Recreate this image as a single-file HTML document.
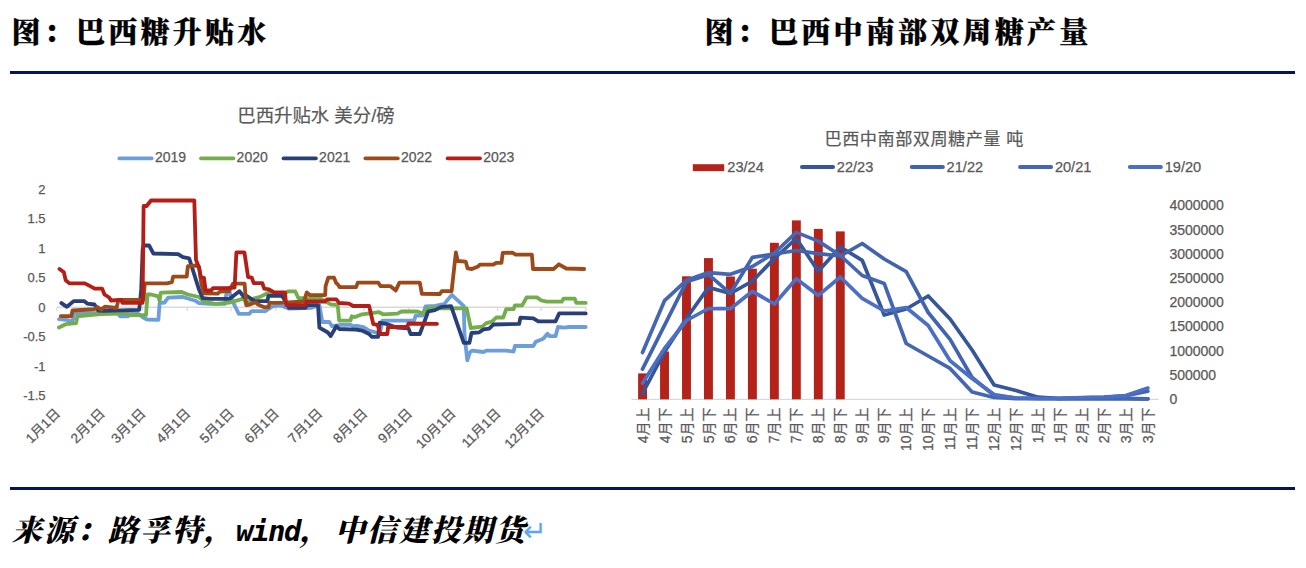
<!DOCTYPE html>
<html><head><meta charset="utf-8">
<style>
html,body{margin:0;padding:0;background:#fff;}
body{width:1306px;height:568px;position:relative;overflow:hidden;}
.t{position:absolute;font-family:"Liberation Serif","Noto Serif CJK SC",serif;font-weight:900;font-size:29px;letter-spacing:3.25px;line-height:32px;color:#000;-webkit-text-stroke:0.3px #000;white-space:nowrap;}
.rule{position:absolute;left:10px;width:1285px;height:3px;background:#041653;}
.src{position:absolute;left:12px;top:515px;font-family:"Liberation Serif","Noto Serif CJK SC",serif;font-weight:900;font-size:30px;letter-spacing:2px;line-height:32px;font-style:italic;white-space:nowrap;color:#000;}
.src .w{font-family:"DejaVu Sans Mono","Liberation Mono",monospace;font-weight:bold;font-size:29px;letter-spacing:-1.46px;}
.arr{position:absolute;left:522.7px;top:514.5px;font-family:"DejaVu Sans",sans-serif;font-style:normal;font-weight:normal;color:#62a3f4;font-size:28.7px;line-height:32px;}
svg{position:absolute;left:0;top:0;}
.ax{font-family:"Liberation Sans","Noto Sans CJK SC",sans-serif;font-size:13px;fill:#595959;stroke:#595959;stroke-width:0.25px;}
.ax2{font-family:"Liberation Sans","Noto Sans CJK SC",sans-serif;font-size:14px;fill:#595959;stroke:#595959;stroke-width:0.25px;}
.ct{font-family:"Liberation Sans","Noto Sans CJK SC",sans-serif;fill:#595959;stroke:#595959;stroke-width:0.2px;}
</style></head><body>
<div class="t" style="left:11.6px;top:16.5px;">图：巴西糖升贴水</div>
<div class="t" style="left:704.6px;top:16.5px;">图：巴西中南部双周糖产量</div>
<div class="rule" style="top:71px;"></div>
<svg width="1306" height="568" viewBox="0 0 1306 568">
<line x1="57.0" y1="307.3" x2="586" y2="307.3" stroke="#d9d9d9" stroke-width="1.6"/>
<line x1="57.0" y1="307.3" x2="57.0" y2="311.1" stroke="#d9d9d9" stroke-width="1.3"/>
<line x1="101.9" y1="307.3" x2="101.9" y2="311.1" stroke="#d9d9d9" stroke-width="1.3"/>
<line x1="142.5" y1="307.3" x2="142.5" y2="311.1" stroke="#d9d9d9" stroke-width="1.3"/>
<line x1="187.4" y1="307.3" x2="187.4" y2="311.1" stroke="#d9d9d9" stroke-width="1.3"/>
<line x1="230.9" y1="307.3" x2="230.9" y2="311.1" stroke="#d9d9d9" stroke-width="1.3"/>
<line x1="275.8" y1="307.3" x2="275.8" y2="311.1" stroke="#d9d9d9" stroke-width="1.3"/>
<line x1="319.3" y1="307.3" x2="319.3" y2="311.1" stroke="#d9d9d9" stroke-width="1.3"/>
<line x1="364.2" y1="307.3" x2="364.2" y2="311.1" stroke="#d9d9d9" stroke-width="1.3"/>
<line x1="409.1" y1="307.3" x2="409.1" y2="311.1" stroke="#d9d9d9" stroke-width="1.3"/>
<line x1="452.6" y1="307.3" x2="452.6" y2="311.1" stroke="#d9d9d9" stroke-width="1.3"/>
<line x1="497.5" y1="307.3" x2="497.5" y2="311.1" stroke="#d9d9d9" stroke-width="1.3"/>
<line x1="541.0" y1="307.3" x2="541.0" y2="311.1" stroke="#d9d9d9" stroke-width="1.3"/>
<line x1="585.9" y1="307.3" x2="585.9" y2="311.1" stroke="#d9d9d9" stroke-width="1.3"/>
<text x="45.6" y="193.9" text-anchor="end" class="ax">2</text>
<text x="45.6" y="223.4" text-anchor="end" class="ax">1.5</text>
<text x="45.6" y="252.9" text-anchor="end" class="ax">1</text>
<text x="45.6" y="282.4" text-anchor="end" class="ax">0.5</text>
<text x="45.6" y="311.9" text-anchor="end" class="ax">0</text>
<text x="45.6" y="341.4" text-anchor="end" class="ax">-0.5</text>
<text x="45.6" y="370.9" text-anchor="end" class="ax">-1</text>
<text x="45.6" y="400.4" text-anchor="end" class="ax">-1.5</text>
<text transform="translate(61.0,414.2) rotate(-45)" text-anchor="end" class="ax" style="font-size:13.5px">1月1日</text>
<text transform="translate(105.9,414.2) rotate(-45)" text-anchor="end" class="ax" style="font-size:13.5px">2月1日</text>
<text transform="translate(146.5,414.2) rotate(-45)" text-anchor="end" class="ax" style="font-size:13.5px">3月1日</text>
<text transform="translate(191.4,414.2) rotate(-45)" text-anchor="end" class="ax" style="font-size:13.5px">4月1日</text>
<text transform="translate(234.9,414.2) rotate(-45)" text-anchor="end" class="ax" style="font-size:13.5px">5月1日</text>
<text transform="translate(279.8,414.2) rotate(-45)" text-anchor="end" class="ax" style="font-size:13.5px">6月1日</text>
<text transform="translate(323.3,414.2) rotate(-45)" text-anchor="end" class="ax" style="font-size:13.5px">7月1日</text>
<text transform="translate(368.2,414.2) rotate(-45)" text-anchor="end" class="ax" style="font-size:13.5px">8月1日</text>
<text transform="translate(413.1,414.2) rotate(-45)" text-anchor="end" class="ax" style="font-size:13.5px">9月1日</text>
<text transform="translate(456.6,414.2) rotate(-45)" text-anchor="end" class="ax" style="font-size:13.5px">10月1日</text>
<text transform="translate(501.5,414.2) rotate(-45)" text-anchor="end" class="ax" style="font-size:13.5px">11月1日</text>
<text transform="translate(545.0,414.2) rotate(-45)" text-anchor="end" class="ax" style="font-size:13.5px">12月1日</text>
<polyline points="58.9,319.2 66.3,319.8 70.0,320.7 72.5,321.2 74.3,314.0 80.0,313.0 118.0,313.5 120.2,316.4 128.0,316.4 131.3,313.7 137.4,313.4 143.5,317.7 147.2,319.5 158.4,319.8 159.6,303.1 164.5,302.5 168.2,297.6 183.0,297.0 195.3,300.7 199.0,303.1 210.0,303.8 225.1,303.8 226.1,294.8 229.8,292.2 231.0,297.0 234.6,305.4 238.8,313.8 249.4,313.8 251.5,311.2 265.2,311.2 272.6,306.4 279.0,305.4 283.2,306.4 288.5,308.6 311.0,307.9 319.4,305.3 322.3,322.0 329.3,322.0 332.1,326.2 340.6,324.8 350.4,324.8 353.2,326.2 357.0,325.8 363.5,327.0 369.1,330.5 376.1,332.6 380.4,331.0 382.5,320.6 414.2,320.6 415.6,315.7 422.6,315.7 425.4,306.5 435.0,305.8 444.1,304.1 451.8,294.9 463.8,306.2 464.5,335.0 467.3,360.4 470.1,352.0 472.3,350.6 483.5,352.0 486.3,350.6 506.0,350.6 513.6,351.6 514.9,346.0 533.3,346.0 535.8,341.7 543.2,338.7 547.5,333.7 549.3,336.2 555.5,336.2 558.0,327.0 564.1,327.6 569.0,327.0 585.7,327.0" fill="none" stroke="#6c9fd9" stroke-width="3.8" stroke-linejoin="round" stroke-linecap="round"/>
<polyline points="58.9,327.5 66.3,324.1 76.1,323.2 77.4,316.4 81.6,315.8 100.6,314.0 119.0,313.4 128.3,313.4 130.0,315.2 146.0,315.2 147.5,294.5 151.0,294.5 158.4,296.4 159.6,300.7 160.8,292.7 181.8,292.0 187.9,294.5 199.0,297.0 204.0,301.9 215.6,303.8 229.3,302.7 239.9,299.6 243.0,298.5 247.3,304.5 251.5,299.0 260.0,296.9 268.4,292.7 285.5,293.3 288.0,291.3 295.2,291.3 298.3,298.0 320.8,298.7 330.7,304.4 337.7,305.1 339.2,320.6 350.4,320.6 351.8,316.3 355.0,317.1 362.0,314.3 379.0,312.2 383.2,314.3 397.3,313.6 401.5,311.5 417.0,311.5 424.0,313.6 426.8,308.7 435.0,308.0 466.6,308.3 470.8,328.0 482.1,326.6 486.3,323.1 492.0,321.7 496.2,317.5 503.2,317.5 506.2,309.1 513.6,309.1 514.9,305.4 522.2,305.4 526.6,297.4 537.0,297.4 541.3,300.5 546.9,301.7 561.7,301.7 563.5,298.6 574.6,298.6 576.4,302.9 585.7,302.9" fill="none" stroke="#74ad4c" stroke-width="3.8" stroke-linejoin="round" stroke-linecap="round"/>
<polyline points="61.4,303.1 66.9,306.8 73.7,301.1 84.1,301.1 87.2,303.6 94.5,304.5 96.5,307.5 98.2,310.6 103.7,310.9 139.2,309.8 141.2,290.0 142.6,250.0 143.6,245.5 149.1,245.5 153.4,253.5 178.1,254.1 183.0,257.2 189.2,258.4 199.0,289.6 202.7,298.2 210.0,298.8 229.7,298.8 239.4,291.2 244.5,297.5 247.0,296.0 254.5,301.1 267.4,301.1 268.4,295.9 282.1,295.9 284.3,299.6 289.0,307.9 305.4,307.9 307.0,305.1 318.0,305.1 319.4,327.6 327.9,332.5 330.7,336.1 336.3,326.2 339.2,329.0 356.1,329.7 362.0,330.5 369.1,334.0 371.9,336.8 378.2,336.8 379.6,322.7 387.4,324.2 397.3,327.7 408.5,328.4 410.6,334.0 419.8,334.0 428.2,311.5 435.0,310.1 441.3,306.9 451.1,306.2 463.8,342.8 469.4,342.8 471.5,333.0 479.3,332.3 483.5,329.4 489.2,328.7 493.4,324.5 519.2,323.9 520.4,317.7 533.3,318.3 538.3,321.4 555.5,321.4 559.2,313.4 585.7,313.4" fill="none" stroke="#283f78" stroke-width="3.8" stroke-linejoin="round" stroke-linecap="round"/>
<polyline points="60.8,316.1 71.3,316.1 72.5,310.5 94.5,309.1 97.0,306.9 101.2,309.7 104.9,306.6 116.6,307.9 117.8,302.4 118.4,299.9 143.5,299.9 144.8,283.4 167.0,283.4 171.9,282.2 173.1,276.6 186.7,276.6 187.9,266.2 196.6,265.5 199.0,267.0 201.5,284.7 204.0,293.3 217.7,293.7 220.0,291.5 229.0,291.0 233.0,283.7 244.6,283.7 246.2,305.0 250.0,304.5 255.5,302.2 258.0,304.5 264.2,307.2 268.6,307.2 269.4,302.8 285.0,302.7 303.9,301.5 306.8,292.4 310.3,295.2 325.2,295.2 325.6,286.0 328.3,277.6 334.0,277.6 336.3,283.2 338.5,285.2 339.7,287.2 356.1,287.2 357.8,282.6 378.2,282.6 380.4,286.1 390.2,286.1 395.8,290.4 399.4,282.6 419.8,282.6 421.9,293.9 439.9,294.0 441.7,291.2 451.6,291.2 455.9,252.3 457.7,261.0 465.7,261.6 467.6,268.4 471.9,269.0 478.1,266.5 479.9,264.7 492.9,264.7 496.6,262.8 501.5,262.8 502.7,252.9 512.4,252.7 515.6,254.6 531.9,254.6 533.0,269.0 553.6,269.0 558.9,264.3 566.2,268.5 584.2,269.0" fill="none" stroke="#9c4a1a" stroke-width="3.8" stroke-linejoin="round" stroke-linecap="round"/>
<polyline points="59.5,268.9 63.9,272.3 65.7,280.3 69.4,283.4 84.8,283.4 89.7,285.9 94.7,288.6 102.1,288.6 104.5,294.5 109.2,297.5 111.0,300.5 121.2,299.9 122.4,302.8 142.6,302.8 143.6,206.0 146.6,206.0 151.0,200.5 194.3,200.5 196.0,260.0 199.0,267.4 200.9,277.3 204.0,277.9 205.6,290.5 211.2,290.5 213.0,288.1 227.2,288.1 234.6,287.5 236.4,252.3 244.4,252.3 248.1,277.0 251.8,277.6 253.7,283.1 262.3,283.1 264.2,288.7 269.1,289.3 274.0,292.4 284.9,292.4 286.3,305.1 305.4,305.1 306.8,301.5 325.1,301.5 327.2,299.4 336.3,299.4 339.2,303.0 349.0,303.7 353.2,306.0 369.1,305.8 373.3,324.2 377.5,324.9 380.4,334.0 387.4,334.0 388.1,327.0 407.1,327.0 408.5,323.5 437.0,323.8" fill="none" stroke="#b41e16" stroke-width="3.8" stroke-linejoin="round" stroke-linecap="round"/>
<text x="237.3" y="122.3" class="ct" style="font-size:18.4px">巴西升贴水 美分/磅</text>
<line x1="119.2" y1="158.4" x2="151.8" y2="158.4" stroke="#6c9fd9" stroke-width="3.6" stroke-linecap="round"/>
<text x="154.9" y="162.3" class="ax" style="font-size:14px">2019</text>
<line x1="200.9" y1="158.4" x2="233.5" y2="158.4" stroke="#74ad4c" stroke-width="3.6" stroke-linecap="round"/>
<text x="236.6" y="162.3" class="ax" style="font-size:14px">2020</text>
<line x1="283.4" y1="158.4" x2="316.0" y2="158.4" stroke="#283f78" stroke-width="3.6" stroke-linecap="round"/>
<text x="319.1" y="162.3" class="ax" style="font-size:14px">2021</text>
<line x1="365.3" y1="158.4" x2="397.9" y2="158.4" stroke="#9c4a1a" stroke-width="3.6" stroke-linecap="round"/>
<text x="401.0" y="162.3" class="ax" style="font-size:14px">2022</text>
<line x1="447.5" y1="158.4" x2="480.1" y2="158.4" stroke="#b41e16" stroke-width="3.6" stroke-linecap="round"/>
<text x="483.2" y="162.3" class="ax" style="font-size:14px">2023</text>
<line x1="631.5" y1="399.3" x2="1158.7" y2="399.3" stroke="#d9d9d9" stroke-width="1.3"/>
<rect x="638.10" y="373.4" width="8.9" height="25.9" fill="#b3231a"/>
<rect x="660.07" y="351.5" width="8.9" height="47.8" fill="#b3231a"/>
<rect x="682.04" y="276.3" width="8.9" height="123.0" fill="#b3231a"/>
<rect x="704.01" y="258.1" width="8.9" height="141.2" fill="#b3231a"/>
<rect x="725.98" y="276.5" width="8.9" height="122.8" fill="#b3231a"/>
<rect x="747.95" y="268.7" width="8.9" height="130.6" fill="#b3231a"/>
<rect x="769.92" y="242.8" width="8.9" height="156.5" fill="#b3231a"/>
<rect x="791.89" y="220.4" width="8.9" height="178.9" fill="#b3231a"/>
<rect x="813.86" y="228.9" width="8.9" height="170.4" fill="#b3231a"/>
<rect x="835.83" y="231.4" width="8.9" height="167.9" fill="#b3231a"/>
<polyline points="642.5,393.4 664.5,352.0 686.5,318.3 708.5,287.4 730.4,293.5 752.4,281.2 774.4,258.4 796.3,238.5 818.3,271.2 840.3,247.0 862.2,260.3 884.2,315.0 906.2,309.0 928.2,296.0 950.1,319.0 972.1,350.0 994.1,385.0 1016.0,390.5 1038.0,397.2 1060.0,398.6 1081.9,398.6 1103.9,398.6 1125.9,398.6 1147.9,398.8" fill="none" stroke="#36569a" stroke-width="3.7" stroke-linejoin="round" stroke-linecap="round"/>
<polyline points="642.5,369.2 664.5,325.4 686.5,281.7 708.5,274.7 730.4,293.3 752.4,257.4 774.4,254.0 796.3,250.5 818.3,253.7 840.3,256.0 862.2,243.5 884.2,259.0 906.2,271.6 928.2,312.5 950.1,339.4 972.1,377.5 994.1,395.5 1016.0,398.0 1038.0,398.5 1060.0,398.5 1081.9,397.8 1103.9,397.3 1125.9,395.8 1147.9,391.3" fill="none" stroke="#4264ae" stroke-width="3.7" stroke-linejoin="round" stroke-linecap="round"/>
<polyline points="642.5,352.5 664.5,300.7 686.5,280.3 708.5,272.6 730.4,274.3 752.4,266.5 774.4,253.0 796.3,232.4 818.3,241.1 840.3,255.5 862.2,275.5 884.2,283.4 906.2,343.5 928.2,356.0 950.1,368.4 972.1,392.0 994.1,397.5 1016.0,398.7 1038.0,398.7 1060.0,398.7 1081.9,398.7 1103.9,398.7 1125.9,398.7 1147.9,398.8" fill="none" stroke="#4566b2" stroke-width="3.7" stroke-linejoin="round" stroke-linecap="round"/>
<polyline points="642.5,383.2 664.5,348.5 686.5,320.5 708.5,308.5 730.4,308.7 752.4,291.3 774.4,304.0 796.3,278.8 818.3,295.4 840.3,277.0 862.2,298.4 884.2,311.0 906.2,307.5 928.2,325.5 950.1,360.7 972.1,378.5 994.1,394.5 1016.0,398.0 1038.0,398.5 1060.0,398.3 1081.9,397.5 1103.9,397.0 1125.9,395.6 1147.9,388.1" fill="none" stroke="#4a6fc4" stroke-width="3.7" stroke-linejoin="round" stroke-linecap="round"/>
<text x="1169.4" y="403.9" class="ax2">0</text>
<text x="1169.4" y="379.7" class="ax2">500000</text>
<text x="1169.4" y="355.5" class="ax2">1000000</text>
<text x="1169.4" y="331.3" class="ax2">1500000</text>
<text x="1169.4" y="307.1" class="ax2">2000000</text>
<text x="1169.4" y="282.9" class="ax2">2500000</text>
<text x="1169.4" y="258.7" class="ax2">3000000</text>
<text x="1169.4" y="234.5" class="ax2">3500000</text>
<text x="1169.4" y="210.3" class="ax2">4000000</text>
<text transform="translate(647.5,407.5) rotate(-90)" text-anchor="end" class="ax2">4月上</text>
<text transform="translate(669.5,407.5) rotate(-90)" text-anchor="end" class="ax2">4月下</text>
<text transform="translate(691.5,407.5) rotate(-90)" text-anchor="end" class="ax2">5月上</text>
<text transform="translate(713.5,407.5) rotate(-90)" text-anchor="end" class="ax2">5月下</text>
<text transform="translate(735.4,407.5) rotate(-90)" text-anchor="end" class="ax2">6月上</text>
<text transform="translate(757.4,407.5) rotate(-90)" text-anchor="end" class="ax2">6月下</text>
<text transform="translate(779.4,407.5) rotate(-90)" text-anchor="end" class="ax2">7月上</text>
<text transform="translate(801.3,407.5) rotate(-90)" text-anchor="end" class="ax2">7月下</text>
<text transform="translate(823.3,407.5) rotate(-90)" text-anchor="end" class="ax2">8月上</text>
<text transform="translate(845.3,407.5) rotate(-90)" text-anchor="end" class="ax2">8月下</text>
<text transform="translate(867.2,407.5) rotate(-90)" text-anchor="end" class="ax2">9月上</text>
<text transform="translate(889.2,407.5) rotate(-90)" text-anchor="end" class="ax2">9月下</text>
<text transform="translate(911.2,407.5) rotate(-90)" text-anchor="end" class="ax2">10月上</text>
<text transform="translate(933.2,407.5) rotate(-90)" text-anchor="end" class="ax2">10月下</text>
<text transform="translate(955.1,407.5) rotate(-90)" text-anchor="end" class="ax2">11月上</text>
<text transform="translate(977.1,407.5) rotate(-90)" text-anchor="end" class="ax2">11月下</text>
<text transform="translate(999.1,407.5) rotate(-90)" text-anchor="end" class="ax2">12月上</text>
<text transform="translate(1021.0,407.5) rotate(-90)" text-anchor="end" class="ax2">12月下</text>
<text transform="translate(1043.0,407.5) rotate(-90)" text-anchor="end" class="ax2">1月上</text>
<text transform="translate(1065.0,407.5) rotate(-90)" text-anchor="end" class="ax2">1月下</text>
<text transform="translate(1086.9,407.5) rotate(-90)" text-anchor="end" class="ax2">2月上</text>
<text transform="translate(1108.9,407.5) rotate(-90)" text-anchor="end" class="ax2">2月下</text>
<text transform="translate(1130.9,407.5) rotate(-90)" text-anchor="end" class="ax2">3月上</text>
<text transform="translate(1152.9,407.5) rotate(-90)" text-anchor="end" class="ax2">3月下</text>
<text x="824.6" y="145.0" class="ct" style="font-size:17.2px;letter-spacing:0.45px">巴西中南部双周糖产量 吨</text>
<rect x="692.8" y="164.2" width="31.4" height="6.9" fill="#b3231a"/>
<text x="727.3" y="171.7" class="ax2" style="font-size:14.6px">23/24</text>
<line x1="801.9" y1="167" x2="833.1" y2="167" stroke="#36569a" stroke-width="3.8" stroke-linecap="round"/>
<text x="836.8" y="171.7" class="ax2" style="font-size:14.6px">22/23</text>
<line x1="911.7" y1="167" x2="942.9" y2="167" stroke="#4264ae" stroke-width="3.8" stroke-linecap="round"/>
<text x="946.6" y="171.7" class="ax2" style="font-size:14.6px">21/22</text>
<line x1="1020.0" y1="167" x2="1051.2" y2="167" stroke="#4566b2" stroke-width="3.8" stroke-linecap="round"/>
<text x="1054.9" y="171.7" class="ax2" style="font-size:14.6px">20/21</text>
<line x1="1129.8" y1="167" x2="1161.0" y2="167" stroke="#4a6fc4" stroke-width="3.8" stroke-linecap="round"/>
<text x="1164.7" y="171.7" class="ax2" style="font-size:14.6px">19/20</text>
</svg>
<div class="rule" style="top:487px;"></div>
<div class="src">来源：路孚特，<span class="w">wind</span>，<span style="margin-left:3px">中信建投期货</span></div>
<div class="arr">↵</div>
</body></html>
